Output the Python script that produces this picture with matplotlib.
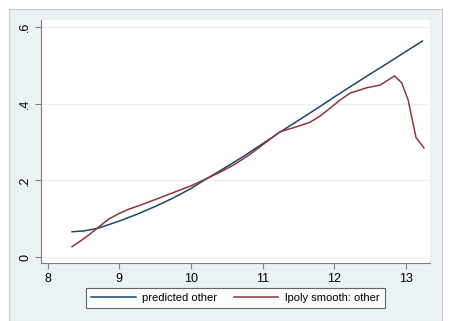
import matplotlib
matplotlib.use("Agg")
import matplotlib.pyplot as plt
from matplotlib.patches import Rectangle

# Data
pred_x = [8.34, 8.5, 8.7, 9.0, 9.25, 9.5, 9.75, 10.0, 10.17, 10.5, 10.75, 11.0,
          11.24, 11.5, 11.75, 12.0, 12.25, 12.5, 12.75, 13.0, 13.23]
pred_y = [0.066, 0.068, 0.075, 0.094, 0.112, 0.132, 0.154, 0.179, 0.199, 0.236,
          0.265, 0.296, 0.326, 0.357, 0.387, 0.418, 0.448, 0.478, 0.507, 0.537, 0.564]

lpoly_x = [8.34, 8.45, 8.57, 8.69, 8.85, 9.0, 9.12, 9.3, 9.5, 9.75, 10.0, 10.15,
           10.4, 10.6, 10.8, 11.0, 11.24, 11.47, 11.66, 11.8, 11.95, 12.08, 12.22,
           12.45, 12.64, 12.84, 12.94, 13.03, 13.14, 13.25]
lpoly_y = [0.027, 0.041, 0.057, 0.075, 0.099, 0.114, 0.124, 0.136, 0.150, 0.168,
           0.186, 0.199, 0.221, 0.241, 0.265, 0.293, 0.327, 0.340, 0.352, 0.368,
           0.390, 0.410, 0.428, 0.442, 0.449, 0.473, 0.455, 0.410, 0.312, 0.285]

xticks = [8, 9, 10, 11, 12, 13]
yticks = [0, 0.2, 0.4, 0.6]
yticklabels = ["0", ".2", ".4", ".6"]
labels = ["predicted other", "lpoly smooth: other"]

plt.rcParams['font.family'] = ['Liberation Sans', 'DejaVu Sans']

W, H = 450, 321
fig = plt.figure(figsize=(W / 100, H / 100), dpi=100)
fig.patch.set_facecolor("white")
bg = "#EAF2F3"
fig.patches.append(Rectangle((9 / W, 0), (442 - 9) / W, 1 - 9 / H,
                             transform=fig.transFigure, facecolor=bg,
                             edgecolor="#C8CDCF", linewidth=0.8, zorder=-10))

ax = fig.add_axes([41 / W, 1 - 263.3 / H, (430 - 41) / W, (263.3 - 20) / H])
ax.set_facecolor("white")
ax.set_xlim(7.9065, 13.335)
ax.set_ylim(-0.0164, 0.619)

for yv in yticks:
    ax.axhline(yv, color=bg, linewidth=1.0, zorder=0)

l1, = ax.plot(pred_x, pred_y, color="#1A476F", linewidth=1.1)
l2, = ax.plot(lpoly_x, lpoly_y, color="#90353B", linewidth=1.1)

ax.set_xticks(xticks)
ax.set_xticklabels([str(v) for v in xticks])
ax.set_yticks(yticks)
ax.set_yticklabels(yticklabels, rotation=90, va="center")

for s in ["top", "right"]:
    ax.spines[s].set_visible(False)
for s in ["left", "bottom"]:
    ax.spines[s].set_color("#7F7F7F")
    ax.spines[s].set_linewidth(0.8)
ax.tick_params(axis="both", direction="out", length=4, width=0.8,
               color="#7F7F7F", labelsize=9, labelcolor="black", pad=3)

leg = fig.legend([l1, l2], labels, loc="center",
                 bbox_to_anchor=(235.5 / W, 1 - 298 / H), ncol=2,
                 fontsize=8, frameon=True, fancybox=False, handlelength=4.0,
                 columnspacing=1.5, borderpad=0.45, handletextpad=0.6)
leg.get_frame().set_edgecolor("#404040")
leg.get_frame().set_linewidth(0.8)
leg.get_frame().set_facecolor("white")

fig.savefig("out.png", dpi=100, facecolor=fig.get_facecolor())
